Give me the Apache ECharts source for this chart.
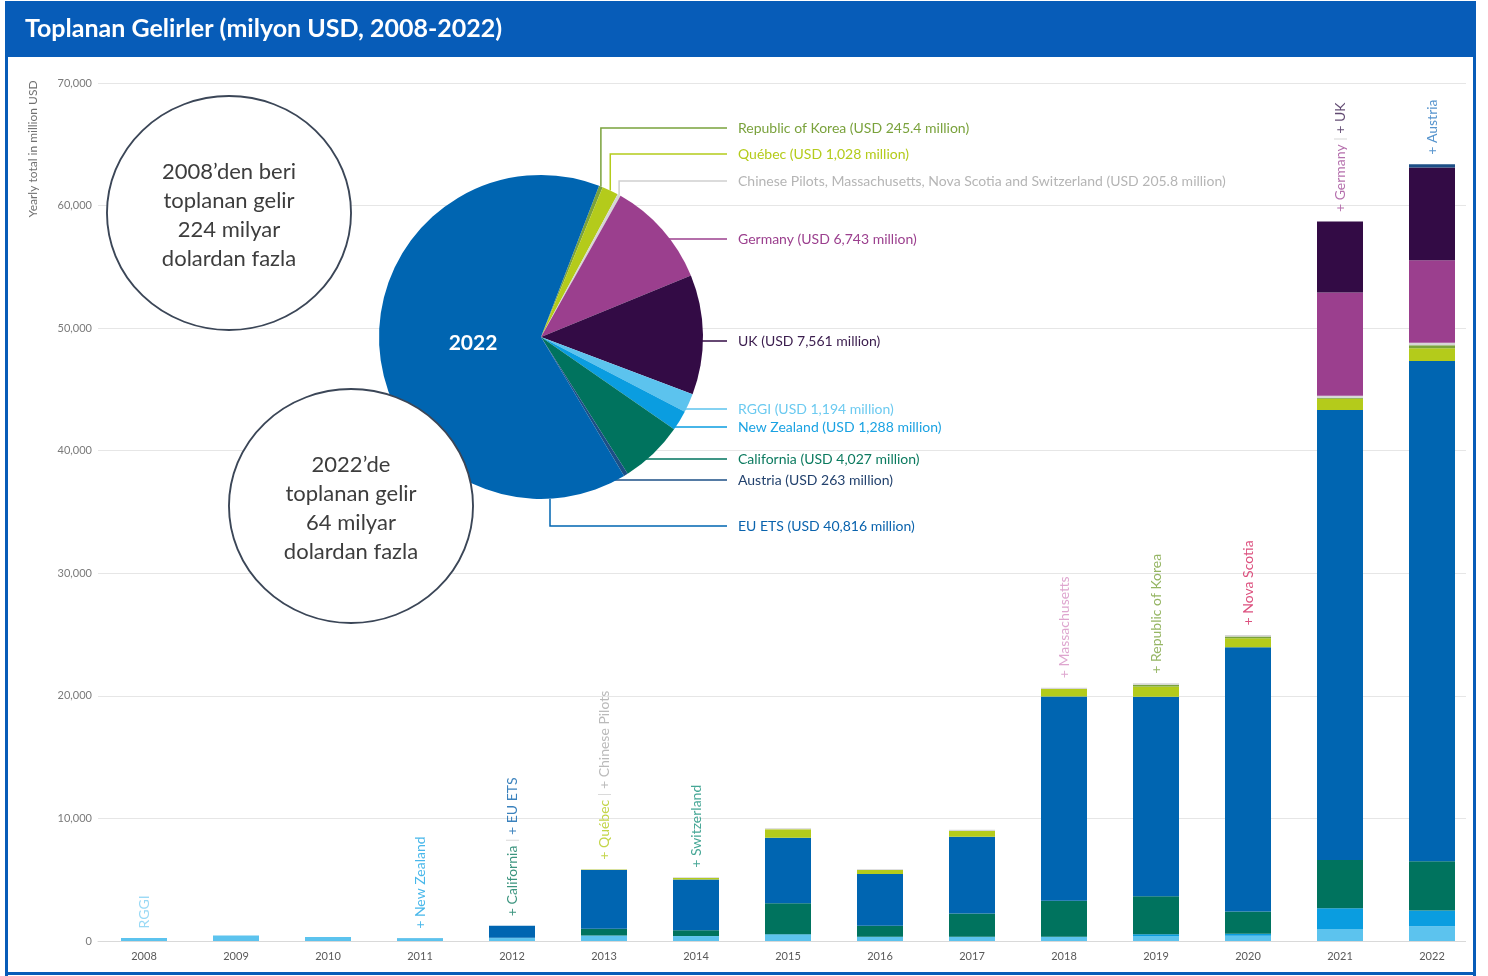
<!DOCTYPE html>
<html><head><meta charset="utf-8">
<script src="https://cdn.jsdelivr.net/npm/echarts@6/dist/echarts.min.js"></script>
<style>html,body{margin:0;padding:0;background:#fff}#c{width:1488px;height:976px}</style>
</head><body><div id="c"></div>
<script>
// ---------- DATA ----------
const years = ['2008','2009','2010','2011','2012','2013','2014','2015','2016','2017','2018','2019','2020','2021','2022'];
const rggi       = [250, 450, 330, 180, 230, 420, 380, 500, 330, 320, 320, 400, 420, 980, 1194];
const newZealand = [0, 0, 0, 40, 30, 30, 20, 50, 20, 30, 30, 150, 170, 1690, 1288];
const california = [0, 0, 0, 0, 0, 550, 470, 2530, 900, 1900, 2940, 3100, 1820, 3940, 4027];
const euEts      = [0, 0, 0, 0, 990, 4800, 4150, 5350, 4220, 6260, 16650, 16280, 21550, 36720, 40816];
const quebec     = [0, 0, 0, 0, 0, 30, 120, 680, 330, 470, 625, 840, 750, 900, 1028];
const korea      = [0, 0, 0, 0, 0, 0, 0, 0, 0, 0, 0, 140, 130, 100, 245.4];
const others     = [0, 0, 0, 0, 0, 30, 60, 80, 60, 100, 100, 120, 130, 150, 205.8];
const germany    = [0, 0, 0, 0, 0, 0, 0, 0, 0, 0, 0, 0, 0, 8430, 6743];
const uk         = [0, 0, 0, 0, 0, 0, 0, 0, 0, 0, 0, 0, 0, 5790, 7561];
const austria    = [0, 0, 0, 0, 0, 0, 0, 0, 0, 0, 0, 0, 0, 0, 263];

const pieNames  = ['Republic of Korea','Québec','Chinese Pilots, Massachusetts, Nova Scotia and Switzerland','Germany','UK','RGGI','New Zealand','California','Austria','EU ETS'];
const pieValues = [245.4, 1028, 205.8, 6743, 7561, 1194, 1288, 4027, 263, 40816];

const yTicks = [0, 10000, 20000, 30000, 40000, 50000, 60000, 70000];

const annotations = [
  [['RGGI','rggi']],
  [], [],
  [['+ New Zealand','nz']],
  [['+ California','cal'],[' | ','sep'],['+ EU ETS','eu']],
  [['+ Québec','que'],[' | ','sep'],['+ Chinese Pilots','chn']],
  [['+ Switzerland','swi']],
  [], [], [],
  [['+ Massachusetts','mas']],
  [['+ Republic of Korea','kor']],
  [['+ Nova Scotia','nov']],
  [['+ Germany','ger'],[' | ','sep'],['+ UK','uk']],
  [['+ Austria','aut']]
];

// ---------- STYLE ----------
const FONT = 'Lato';
const C = {
  rggi:'#5cc3ee', nz:'#0a9de0', cal:'#00735e', eu:'#0065b1', que:'#b4cb1b',
  kor:'#7aa23c', oth:'#d6d6d6', ger:'#9b3f8e', uk:'#330b45', aut:'#1c4f86'
};
const pieColors = [C.kor, C.que, C.oth, C.ger, C.uk, C.rggi, C.nz, C.cal, C.aut, C.eu];
const pieTextColors = ['#7aa23c','#b4cb1b','#b5b5b5','#9b3f8e','#3a1c4d','#6ccaf0','#1aa2e2','#0b7a5f','#23426e','#0a63ad'];
const pieLabelY = [128, 154, 181, 239, 341, 409, 427, 459, 480, 526];
const PIE_CX = 541, PIE_CY = 337, PIE_R = 162, PIE_START = 21; // degrees clockwise from north
const LINE_END_X = 727, LABEL_X = 738;

const barSeries = [
  ['RGGI', rggi, C.rggi], ['New Zealand', newZealand, C.nz], ['California', california, C.cal],
  ['EU ETS', euEts, C.eu], ['Québec', quebec, C.que], ['Republic of Korea', korea, C.kor],
  ['Others', others, C.oth], ['Germany', germany, C.ger], ['UK', uk, C.uk], ['Austria', austria, C.aut]
];
const totals = years.map((_, i) => barSeries.reduce((s, b) => s + b[1][i], 0));

// pie mid angles
const pieTotal = pieValues.reduce((a, b) => a + b, 0);
const midAngles = [];
{ let acc = PIE_START; pieValues.forEach(v => { const a = v / pieTotal * 360; midAngles.push(acc + a / 2); acc += a; }); }

const rich = {
  rggi:{color:'#7fd0f2'}, nz:{color:'#1aa5e5'}, cal:{color:'#0b7a5f'}, eu:{color:'#0a63ad'},
  sep:{color:'#cfcfcf'}, que:{color:'#b4cb1b'}, chn:{color:'#a9a9a9'}, swi:{color:'#16907a'},
  mas:{color:'#d690c3'}, kor:{color:'#7aa23c'}, nov:{color:'#d3245e'}, ger:{color:'#a24c98'},
  uk:{color:'#3a1c4d'}, aut:{color:'#2a78c0'}
};
Object.values(rich).forEach(r => { r.fontSize = 14; r.fontFamily = FONT; });

const chart = echarts.init(document.getElementById('c'));
const BLUE = '#075cb8';

function circleGroup(cx, cy, lines) {
  const els = [{
    type:'circle', x:cx, y:cy, scaleX:1.043, shape:{cx:0, cy:0, r:117},
    style:{fill:'#fff', stroke:'#3b4657', lineWidth:1.8}, z:100
  }];
  lines.forEach((t, i) => els.push({
    type:'text', x:cx, y:cy + 2 + (i - (lines.length - 1) / 2) * 29, z:101,
    style:{text:t, fill:'#3d3d3d', font:'22px ' + FONT, textAlign:'center', textVerticalAlign:'middle'}
  }));
  return els;
}

const option = {
  animation:false,
  backgroundColor:'#fff',
  grid:{left:98, top:83, width:1380, height:858, containLabel:false},
  xAxis:{
    type:'category', data:years,
    axisLine:{lineStyle:{color:'#d9d9d9'}}, axisTick:{show:false},
    axisLabel:{color:'#5a5a5a', fontSize:11, fontFamily:FONT, margin:10}
  },
  yAxis:{
    type:'value', min:yTicks[0], max:yTicks[yTicks.length-1], interval:yTicks[1]-yTicks[0],
    axisLine:{show:false}, axisTick:{show:false},
    axisLabel:{color:'#7a7a7a', fontSize:11, fontFamily:FONT, margin:6, formatter:v => v.toLocaleString('en-US')},
    splitLine:{lineStyle:{color:'#e6e6e6'}}
  },
  series:[
    ...barSeries.map(([name, data, color]) => ({
      type:'bar', name, stack:'total', data, barWidth:46, itemStyle:{color}, silent:true
    })),
    {
      type:'scatter', data:totals, symbolSize:1, itemStyle:{color:'rgba(0,0,0,0)'}, silent:true, z:5,
      label:{
        show:true, position:'top', distance:9, rotate:90, align:'left', verticalAlign:'middle',
        formatter:p => annotations[p.dataIndex].map(([t, k]) => '{' + k + '|' + t + '}').join(''),
        rich
      }
    },
    {
      type:'pie', center:[PIE_CX, PIE_CY], radius:PIE_R, startAngle:90 - PIE_START, clockwise:true,
      avoidLabelOverlap:false, silent:true, z:3,
      data:pieNames.map((n, i) => ({
        name:n, value:pieValues[i], itemStyle:{color:pieColors[i]},
        label:{color:pieTextColors[i]}, labelLine:{lineStyle:{color:pieColors[i] === C.oth ? '#d0d0d0' : pieColors[i]}}
      })),
      label:{show:true, position:'outside', fontSize:14, fontFamily:FONT,
        formatter:p => p.name + ' (USD ' + p.value.toLocaleString('en-US') + ' million)'},
      labelLine:{show:true, length:10, length2:10, lineStyle:{width:1.5}},
      labelLayout:function (params) {
        const i = params.dataIndex;
        const ly = pieLabelY[i];
        let pts;
        if (i <= 2) {
          const th = midAngles[i] * Math.PI / 180;
          const ax = PIE_CX + PIE_R * Math.sin(th), ay = PIE_CY - PIE_R * Math.cos(th);
          pts = [[ax, ay], [ax, ly], [LINE_END_X, ly]];
        } else if (i === pieValues.length - 1) {
          const ax = PIE_CX + 9, ay = PIE_CY + Math.sqrt(PIE_R * PIE_R - 81);
          pts = [[ax, ay], [ax, ly], [LINE_END_X, ly]];
        } else {
          const dy = ly - PIE_CY;
          const ax = PIE_CX + Math.sqrt(Math.max(0, PIE_R * PIE_R - dy * dy)) - 3;
          pts = [[ax, ly], [ax + 1, ly], [LINE_END_X, ly]];
        }
        return {x:LABEL_X, y:ly, align:'left', verticalAlign:'middle', labelLinePoints:pts};
      }
    }
  ],
  graphic:[
    {type:'rect', shape:{x:1466, y:58, width:22, height:918}, style:{fill:'#fff'}, z:90},
    {type:'rect', shape:{x:5, y:1, width:1471, height:56}, style:{fill:BLUE}, z:200},
    {type:'text', x:25, y:29, z:201, style:{text:'Toplanan Gelirler (milyon USD, 2008-2022)', fill:'#fff', font:'bold 25px ' + FONT, textVerticalAlign:'middle'}},
    {type:'rect', shape:{x:5, y:56, width:3, height:920}, style:{fill:BLUE}, z:200},
    {type:'rect', shape:{x:1473, y:56, width:3, height:920}, style:{fill:BLUE}, z:200},
    {type:'rect', shape:{x:5, y:972, width:1471, height:3}, style:{fill:BLUE}, z:200},
    {type:'text', x:33, y:149, rotation:Math.PI / 2, z:50,
      style:{text:'Yearly total in million USD', fill:'#707070', font:'12px ' + FONT, textAlign:'center', textVerticalAlign:'middle'}},
    {type:'text', x:473, y:343, z:60, style:{text:'2022', fill:'#fff', font:'bold 21px ' + FONT, textAlign:'center', textVerticalAlign:'middle'}},
    ...circleGroup(229, 213, ['2008’den beri', 'toplanan gelir', '224 milyar', 'dolardan fazla']),
    ...circleGroup(351, 506, ['2022’de', 'toplanan gelir', '64 milyar', 'dolardan fazla'])
  ]
};
chart.setOption(option);
</script></body></html>
